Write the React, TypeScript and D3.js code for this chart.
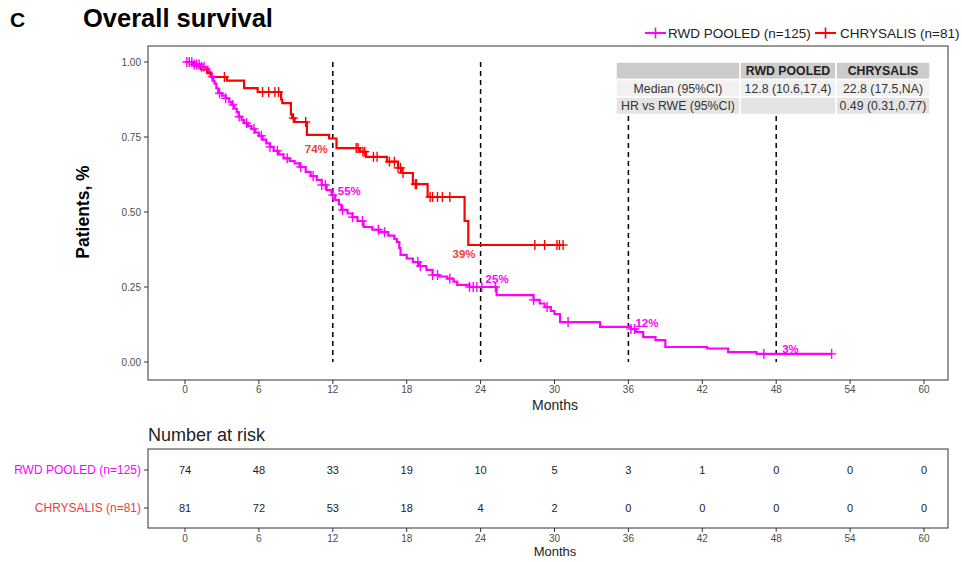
import React from "react";
import * as d3 from "d3";

// ---------- DATA ----------
const MONTH_TICKS = [0, 6, 12, 18, 24, 30, 36, 42, 48, 54, 60];
const Y_TICKS = [0, 0.25, 0.5, 0.75, 1];

// RWD POOLED: [time (months), survival after drop]
const RWD_STEPS: [number, number][] = [
  [0.6, 0.992], [1.2, 0.984], [1.8, 0.976], [1.95, 0.968], [2.05, 0.96], [2.15, 0.952],
  [2.25, 0.944], [2.3, 0.936], [2.4, 0.928], [2.55, 0.912], [2.7, 0.896], [3.0, 0.888],
  [3.3, 0.879], [3.6, 0.866], [3.8, 0.857], [4.0, 0.845], [4.2, 0.833], [4.35, 0.818],
  [4.6, 0.806], [4.8, 0.796], [5.1, 0.786], [5.4, 0.777], [5.7, 0.765], [6.0, 0.754],
  [6.3, 0.741], [6.6, 0.729], [6.9, 0.717], [7.2, 0.704], [7.6, 0.692], [8.0, 0.679],
  [8.5, 0.67], [8.9, 0.662], [9.3, 0.65], [9.8, 0.634], [10.2, 0.62], [10.7, 0.607],
  [11.1, 0.59], [11.5, 0.573], [11.9, 0.556], [12.2, 0.54], [12.5, 0.525], [12.7, 0.507],
  [13.2, 0.495], [13.6, 0.483], [14.0, 0.47], [14.5, 0.45], [15.2, 0.441], [15.8, 0.433],
  [16.5, 0.421], [17.0, 0.41], [17.2, 0.4], [17.4, 0.38], [17.5, 0.357], [18.0, 0.345],
  [18.5, 0.333], [19.0, 0.32], [19.6, 0.307], [20.1, 0.29], [20.6, 0.285], [21.3, 0.278],
  [21.8, 0.268], [22.1, 0.257], [23.1, 0.25], [25.3, 0.223], [28.3, 0.207], [28.8, 0.195],
  [29.2, 0.183], [29.7, 0.17], [30.0, 0.16], [30.45, 0.133], [33.7, 0.117], [36.2, 0.11],
  [36.6, 0.1], [37.2, 0.083], [38.2, 0.073], [39.0, 0.05], [42.4, 0.045], [44.1, 0.033],
  [46.4, 0.027],
];
const RWD_CENSORS = [
  0.15, 0.35, 0.55, 0.75, 0.95, 1.15, 1.35, 1.55, 2.2, 2.8, 3.3, 3.9, 4.4, 5.0, 5.6, 6.2,
  6.9, 7.5, 8.3, 9.4, 10.4, 11.1, 11.4, 12.0, 12.8, 13.6, 14.4, 15.7, 16.2, 18.9, 19.1,
  20.1, 20.5, 21.5, 23.1, 23.4, 23.7, 24.1, 25.2, 28.3, 29.4, 31.1, 36.2, 36.5, 47.0, 52.5,
];
const RWD_END = 52.5;

// CHRYSALIS
const CHRY_STEPS: [number, number][] = [
  [0.7, 0.988], [1.3, 0.975], [1.8, 0.963], [2.1, 0.95], [3.4, 0.938], [4.8, 0.913],
  [5.9, 0.9], [7.8, 0.875], [7.9, 0.863], [8.6, 0.825], [8.7, 0.813], [8.9, 0.8],
  [9.9, 0.757], [11.7, 0.745], [12.3, 0.713], [14.2, 0.701], [14.7, 0.684], [16.4, 0.668],
  [17.3, 0.647], [17.6, 0.63], [18.5, 0.593], [19.7, 0.55], [22.7, 0.47], [23.0, 0.39],
];
const CHRY_CENSORS = [
  3.2, 6.3, 6.8, 7.3, 7.6, 8.8, 9.8, 13.9, 14.05, 14.45, 14.6, 15.3, 15.6, 16.6, 17.0,
  17.3, 17.5, 17.7, 18.7, 18.8, 19.9, 20.1, 20.5, 20.9, 21.5, 28.4, 29.2, 30.2, 30.4, 30.7,
];
const CHRY_END = 30.7;

const RISK_RWD = [74, 48, 33, 19, 10, 5, 3, 1, 0, 0, 0];
const RISK_CHRY = [81, 72, 53, 18, 4, 2, 0, 0, 0, 0, 0];

const LANDMARK_TIMES = [12, 24, 36, 48];
const LANDMARK_LABELS = [
  { t: 12, v: 0.74, text: "74%", series: "chry" },
  { t: 12, v: 0.55, text: "55%", series: "rwd" },
  { t: 24, v: 0.39, text: "39%", series: "chry" },
  { t: 24, v: 0.25, text: "25%", series: "rwd" },
  { t: 36, v: 0.12, text: "12%", series: "rwd" },
  { t: 48, v: 0.03, text: "3%", series: "rwd" },
];
// label placement (style)
const LABEL_STYLE = [
  { dx: -5, dy: 13, anchor: "end" },
  { dx: 5, dy: -2, anchor: "start" },
  { dx: -5, dy: 13, anchor: "end" },
  { dx: 5, dy: -4, anchor: "start" },
  { dx: 7, dy: 1, anchor: "start" },
  { dx: 6, dy: 0, anchor: "start" },
];

const TABLE_HEAD = ["", "RWD POOLED", "CHRYSALIS"];
const TABLE_ROWS = [
  ["Median (95%CI)", "12.8 (10.6,17.4)", "22.8 (17.5,NA)"],
  ["HR vs RWE (95%CI)", "", "0.49 (0.31,0.77)"],
];

const SERIES_NAMES = ["RWD POOLED (n=125)", "CHRYSALIS (n=81)"];

// ---------- STYLE ----------
const MAG = "#ff00ff";
const RED = "#ff0000";
const RED_TXT = "#f03c3c";
const FONT = "'Liberation Sans', Arial, Helvetica, sans-serif";
const GREY = "#4d4d4d";

const x = d3.scaleLinear().domain([0, 60]).range([185, 924]);
const y = d3.scaleLinear().domain([0, 1]).range([362, 62]);

function stepPath(steps: [number, number][], end: number) {
  let p = `M${x(0)},${y(1)}`;
  for (const [t, s] of steps) p += `H${x(t)}V${y(s)}`;
  p += `H${x(end)}`;
  return p;
}
function survAt(steps: [number, number][], t: number) {
  let s = 1;
  for (const [tt, ss] of steps) if (tt <= t) s = ss;
  return s;
}

function Censors({ steps, censors, color }: any) {
  return (
    <g stroke={color} strokeWidth={1.4}>
      {censors.map((t: number, i: number) => {
        const cx = x(t), cy = y(survAt(steps, t));
        return (
          <g key={i}>
            <line x1={cx - 4.5} x2={cx + 4.5} y1={cy} y2={cy} />
            <line x1={cx} x2={cx} y1={cy - 5} y2={cy + 5} />
          </g>
        );
      })}
    </g>
  );
}

export default function App() {
  const panel = { l: 148, r: 948, t: 46, b: 380 };
  const risk = { t: 449, b: 528 };
  const riskRows = [470, 508];
  const tbl = { x: [616, 740, 836, 930], y: [62, 79.5, 97, 114.5] };
  const rowFills = ["#cccccc", "#f1f1f1", "#e4e4e4"];

  return (
    <svg
      width={962}
      height={562}
      style={{ position: "absolute", left: 0, top: 0, background: "#fff" }}
      fontFamily={FONT}
    >
      {/* Title */}
      <text x={10} y={27} fontSize={21} fontWeight="bold">C</text>
      <text x={83} y={27} fontSize={25.5} fontWeight="bold">Overall survival</text>

      {/* Legend */}
      <g fontSize={13.5} fill="#222">
        <line x1={645} x2={666} y1={33} y2={33} stroke={MAG} strokeWidth={2} />
        <line x1={655.5} x2={655.5} y1={27.5} y2={38.5} stroke={MAG} strokeWidth={1.6} />
        <text x={668} y={38}>{SERIES_NAMES[0]}</text>
        <line x1={815} x2={836} y1={33} y2={33} stroke={RED} strokeWidth={2} />
        <line x1={825.5} x2={825.5} y1={27.5} y2={38.5} stroke={RED} strokeWidth={1.6} />
        <text x={840} y={38}>{SERIES_NAMES[1]}</text>
      </g>

      {/* Y axis */}
      <text
        transform={`translate(89,${y(0.5)}) rotate(-90)`}
        textAnchor="middle"
        fontSize={17.5}
        fontWeight="bold"
      >
        Patients, %
      </text>
      {Y_TICKS.map((v) => (
        <g key={v}>
          <line x1={panel.l - 4} x2={panel.l} y1={y(v)} y2={y(v)} stroke="#333" />
          <text x={panel.l - 7} y={y(v) + 3.5} fontSize={10} fill={GREY} textAnchor="end">
            {v.toFixed(2)}
          </text>
        </g>
      ))}
      {/* X axis main */}
      {MONTH_TICKS.map((m) => (
        <g key={m}>
          <line x1={x(m)} x2={x(m)} y1={panel.b} y2={panel.b + 4} stroke="#333" />
          <text x={x(m)} y={panel.b + 13} fontSize={10} fill={GREY} textAnchor="middle">{m}</text>
        </g>
      ))}
      <text x={555} y={410} fontSize={14} textAnchor="middle" fill="#222">Months</text>

      {/* Landmark lines */}
      {LANDMARK_TIMES.map((t) => (
        <line
          key={t}
          x1={x(t)}
          x2={x(t)}
          y1={y(1)}
          y2={y(0)}
          stroke="#000"
          strokeWidth={1.5}
          strokeDasharray="5,4"
        />
      ))}

      {/* Curves */}
      <path d={stepPath(RWD_STEPS, RWD_END)} fill="none" stroke={MAG} strokeWidth={2.2} />
      <path d={stepPath(CHRY_STEPS, CHRY_END)} fill="none" stroke={RED} strokeWidth={2.2} />
      <Censors steps={RWD_STEPS} censors={RWD_CENSORS} color={MAG} />
      <Censors steps={CHRY_STEPS} censors={CHRY_CENSORS} color={RED} />

      {/* Landmark labels */}
      {LANDMARK_LABELS.map((L, i) => (
        <text
          key={i}
          x={x(L.t) + LABEL_STYLE[i].dx}
          y={y(L.v) + LABEL_STYLE[i].dy}
          textAnchor={LABEL_STYLE[i].anchor as any}
          fontSize={11.5}
          fontWeight="bold"
          fill={L.series === "rwd" ? MAG : RED_TXT}
        >
          {L.text}
        </text>
      ))}

      {/* Summary table */}
      <g fontSize={12.3}>
        {[TABLE_HEAD, ...TABLE_ROWS].map((row, ri) =>
          row.map((cell, ci) => (
            <g key={`${ri}-${ci}`}>
              <rect
                x={tbl.x[ci]}
                y={tbl.y[ri]}
                width={tbl.x[ci + 1] - tbl.x[ci]}
                height={tbl.y[ri + 1] - tbl.y[ri]}
                fill={rowFills[ri]}
                stroke="#fff"
                strokeWidth={1.5}
              />
              <text
                x={(tbl.x[ci] + tbl.x[ci + 1]) / 2}
                y={tbl.y[ri] + 13}
                textAnchor="middle"
                fontWeight={ri === 0 ? "bold" : "normal"}
                fill={ri === 0 ? "#222" : "#333"}
              >
                {cell}
              </text>
            </g>
          ))
        )}
      </g>

      {/* Panel border */}
      <rect
        x={panel.l}
        y={panel.t}
        width={panel.r - panel.l}
        height={panel.b - panel.t}
        fill="none"
        stroke="#333"
        strokeWidth={1}
      />

      {/* Risk table */}
      <text x={148} y={441} fontSize={18} fill="#222">Number at risk</text>
      <rect x={panel.l} y={risk.t} width={panel.r - panel.l} height={risk.b - risk.t} fill="none" stroke="#333" />
      {[RISK_RWD, RISK_CHRY].map((arr, ri) => (
        <g key={ri}>
          <line x1={panel.l - 4} x2={panel.l} y1={riskRows[ri]} y2={riskRows[ri]} stroke="#333" />
          <text
            x={panel.l - 7}
            y={riskRows[ri] + 4}
            fontSize={12}
            textAnchor="end"
            fill={ri === 0 ? MAG : RED_TXT}
          >
            {SERIES_NAMES[ri]}
          </text>
          {arr.map((n, i) => (
            <text key={i} x={x(MONTH_TICKS[i])} y={riskRows[ri] + 4} fontSize={11} textAnchor="middle" fill="#222">
              {n}
            </text>
          ))}
        </g>
      ))}
      {MONTH_TICKS.map((m) => (
        <g key={m}>
          <line x1={x(m)} x2={x(m)} y1={risk.b} y2={risk.b + 4} stroke="#333" />
          <text x={x(m)} y={risk.b + 14} fontSize={10} fill={GREY} textAnchor="middle">{m}</text>
        </g>
      ))}
      <text x={555} y={556} fontSize={13} textAnchor="middle" fill="#222">Months</text>
    </svg>
  );
}
